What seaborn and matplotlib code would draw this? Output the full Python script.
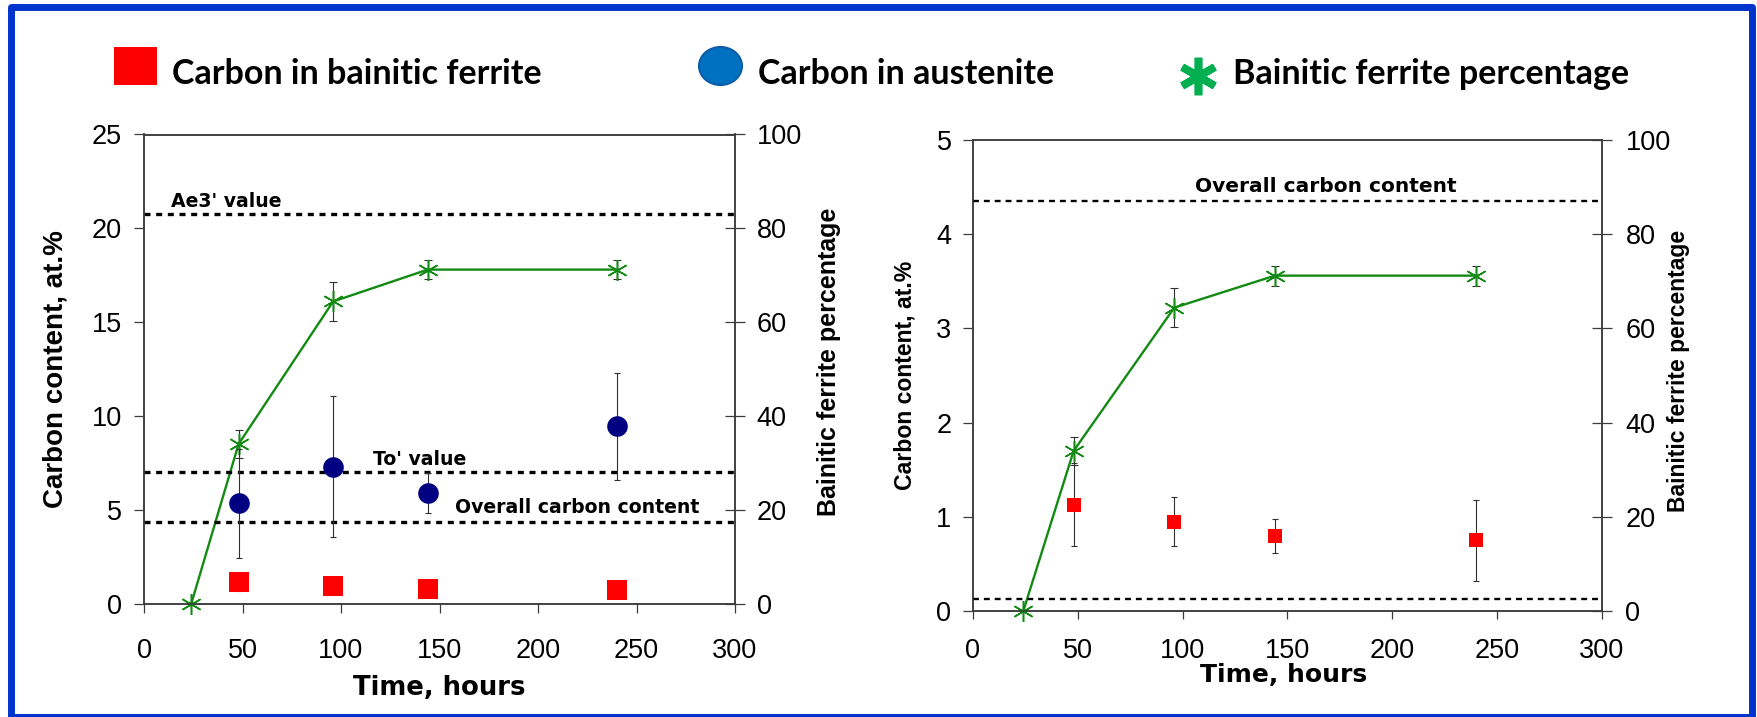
import matplotlib
matplotlib.use("Agg")
import matplotlib.pyplot as plt
from matplotlib.patches import Rectangle, Ellipse
from matplotlib.lines import Line2D
import seaborn as sns

# ---------------- data ----------------
time_h = [24, 48, 96, 144, 240]
ferrite_pct = [0.0, 34.0, 64.4, 71.2, 71.2]
ferrite_pct_err = [0.0, 3.0, 4.2, 2.1, 2.1]

sample_h = [48, 96, 144, 240]
c_ferrite = [1.13, 0.95, 0.80, 0.75]
c_ferrite_err = [0.44, 0.26, 0.18, 0.43]
c_austenite = [5.35, 7.30, 5.90, 9.45]
c_austenite_err = [2.9, 3.77, 1.07, 2.85]

ref_left_names = ["Ae3' value", "To' value", "Overall carbon content"]
ref_left_values = [20.75, 7.03, 4.33]
ref_left_label_pos = [(13.5, 21.13), (116, 7.39), (158, 4.81)]
ref_right_values = [4.35, 0.13]
ref_right_name = "Overall carbon content"
ref_right_label_pos = (106, 4.45)

x_ticks = [0, 50, 100, 150, 200, 250, 300]
pct_ticks = [0, 20, 40, 60, 80, 100]
left_c_ticks = [0, 5, 10, 15, 20, 25]
right_c_ticks = [0, 1, 2, 3, 4, 5]

legend_labels = ["Carbon in bainitic ferrite", "Carbon in austenite",
                 "Bainitic ferrite percentage"]

# ---------------- style ----------------
sns.set_theme(style="ticks")
plt.rcParams["font.family"] = ["Liberation Sans", "DejaVu Sans"]

W, H = 1757, 717
GREEN = "#138A13"
RED = "#FF0000"
NAVY = "#000080"
SPINE = "#3C3C3C"
ERR = "#303030"

fig = plt.figure(figsize=(W / 100, H / 100), dpi=100)
fig.patch.set_facecolor("white")

axL = fig.add_axes([144 / W, 1 - 603.6 / H, 591 / W, 469.1 / H])
axR = fig.add_axes([973 / W, 1 - 611 / H, 629 / W, 471 / H])


def style_axes(ax, ax2, xpad, ylpad, yrpad, xlen):
    for a in (ax, ax2):
        for s in a.spines.values():
            s.set_color(SPINE)
            s.set_linewidth(1.1)
        a.set_facecolor("none")
    ax.tick_params(axis="x", direction="out", length=xlen, width=0.9,
                   color=SPINE, labelsize=19.5, pad=xpad, labelcolor="black")
    ax.tick_params(axis="y", direction="out", length=7.2, width=0.9,
                   color=SPINE, labelsize=19.5, pad=ylpad, labelcolor="black")
    ax2.tick_params(axis="y", direction="inout", length=14.4, width=0.9,
                    color=SPINE, labelsize=19.5, pad=yrpad, labelcolor="black")


def ferrite_series(ax2):
    ax2.errorbar(time_h, ferrite_pct, yerr=ferrite_pct_err, fmt="none",
                 ecolor=ERR, elinewidth=0.8, capsize=3, capthick=0.8, zorder=2)
    sns.lineplot(x=time_h, y=ferrite_pct, ax=ax2, color=GREEN, linewidth=1.7,
                 marker=(6, 2, 0), markersize=15, markeredgewidth=1.1,
                 markeredgecolor=GREEN, markerfacecolor="none",
                 errorbar=None, legend=False, clip_on=False, zorder=3)
    ax2.set_ylim(0, 100)
    ax2.set_yticks(pct_ticks)


# ---------------- left panel ----------------
axL2 = axL.twinx()
axL.set_zorder(axL2.get_zorder() + 1)

for y in ref_left_values:
    axL.hlines(y, 0, 300, colors="black", linewidth=2.4,
               linestyles=(0, (1.8, 1.7)), zorder=1)
for name, (tx, ty) in zip(ref_left_names, ref_left_label_pos):
    axL.text(tx, ty, name, fontsize=13.6, family=["DejaVu Sans"],
             weight="bold", va="baseline", ha="left", color="black")

axL.errorbar(sample_h, c_austenite, yerr=c_austenite_err, fmt="none",
             ecolor=ERR, elinewidth=0.8, capsize=2.5, capthick=0.8, zorder=2)
axL.errorbar(sample_h, c_ferrite, yerr=c_ferrite_err, fmt="none",
             ecolor=ERR, elinewidth=0.8, capsize=2.5, capthick=0.8, zorder=2)
sns.scatterplot(x=sample_h, y=c_austenite, ax=axL, marker="o", s=220,
                color=NAVY, linewidth=0, zorder=4, legend=False)
sns.scatterplot(x=sample_h, y=c_ferrite, ax=axL, marker="s", s=225,
                color=RED, linewidth=0, zorder=4, legend=False)

ferrite_series(axL2)
axL.patch.set_visible(False)

axL.set_xlim(0, 300)
axL.set_xticks(x_ticks)
axL.set_ylim(0, 25)
axL.set_yticks(left_c_ticks)
style_axes(axL, axL2, xpad=18, ylpad=8.5, yrpad=8.3, xlen=6.5)

axL.set_xlabel("Time, hours", fontsize=18.6, family=["DejaVu Sans"],
               weight="bold", va="center", color="black")
axL.xaxis.set_label_coords(0.5, -0.18)
axL.set_ylabel("Carbon content, at.%", fontsize=20, weight="bold",
               va="center", color="black")
axL.yaxis.set_label_coords(-0.149, 0.5)
axL2.set_ylabel("Bainitic ferrite percentage", fontsize=18, weight="bold",
                va="center", color="black")
axL2.yaxis.set_label_coords(1.159, 0.515)

# ---------------- right panel ----------------
axR2 = axR.twinx()
axR.set_zorder(axR2.get_zorder() + 1)

for y in ref_right_values:
    axR.hlines(y, 0, 300, colors="black", linewidth=1.7,
               linestyles=(0, (2.5, 2.1)), zorder=1)
axR.text(*ref_right_label_pos, ref_right_name, fontsize=14.5,
         family=["DejaVu Sans"], weight="bold", va="baseline", ha="left",
         color="black")

axR.errorbar(sample_h, c_ferrite, yerr=c_ferrite_err, fmt="none",
             ecolor=ERR, elinewidth=0.8, capsize=2.5, capthick=0.8, zorder=2)
sns.scatterplot(x=sample_h, y=c_ferrite, ax=axR, marker="s", s=100,
                color=RED, linewidth=0, zorder=4, legend=False)

ferrite_series(axR2)
axR.patch.set_visible(False)

axR.set_xlim(0, 300)
axR.set_xticks(x_ticks)
axR.set_ylim(0, 5)
axR.set_yticks(right_c_ticks)
style_axes(axR, axR2, xpad=14, ylpad=8.3, yrpad=9.7, xlen=5.5)

axR.set_xlabel("Time, hours", fontsize=18, family=["DejaVu Sans"],
               weight="bold", va="center", color="black")
axR.xaxis.set_label_coords(0.493, -0.135)
axR.set_ylabel("Carbon content, at.%", fontsize=16.6, weight="bold",
               va="center", color="black")
axR.yaxis.set_label_coords(-0.108, 0.501)
axR2.set_ylabel("Bainitic ferrite percentage", fontsize=16.5, weight="bold",
                va="center", color="black")
axR2.yaxis.set_label_coords(1.121, 0.51)

# ---------------- legend row ----------------
fig.add_artist(Rectangle((114 / W, 1 - 85 / H), 43 / W, 38 / H,
                         transform=fig.transFigure, facecolor=RED,
                         edgecolor="none"))
fig.add_artist(Ellipse((720.5 / W, 1 - 66 / H), 43 / W, 38 / H,
                       transform=fig.transFigure, facecolor="#0070C0",
                       edgecolor="#0A5CA8", linewidth=1.5))
fig.add_artist(Line2D([1198 / W], [1 - 76 / H], transform=fig.transFigure,
                      marker=(6, 2, 0), markersize=27, markeredgewidth=5.5,
                      color="#00B050", linestyle="none"))
legend_x = [172, 758, 1233]
for lx, lab in zip(legend_x, legend_labels):
    fig.text(lx / W, 1 - 84 / H, lab, fontsize=24.5,
             family=["Lato", "DejaVu Sans"], weight="bold",
             va="baseline", ha="left", color="black")

# ---------------- frame ----------------
fig.add_artist(Rectangle((10.5 / W, 0.5 / H), 1741 / W, 710 / H,
                         transform=fig.transFigure, fill=False,
                         edgecolor="#0033CC", linewidth=5.0,
                         joinstyle="round"))

fig.savefig("out.png", dpi=100, facecolor="white")
